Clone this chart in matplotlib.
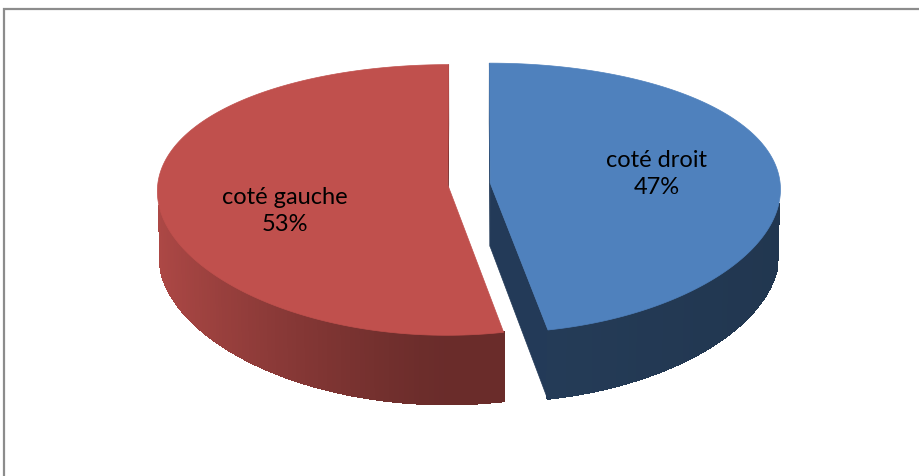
import math
import numpy as np
import matplotlib
matplotlib.use("Agg")
import matplotlib.pyplot as plt
from matplotlib.patches import Polygon

# ------------------------------------------------------------
# Data
# ------------------------------------------------------------
labels = ["coté droit", "coté gauche"]
values = [47, 53]
top_colors = ["#4F81BD", "#C0504D"]

# ------------------------------------------------------------
# 3D view setup (pixel units)
# ------------------------------------------------------------
W, H = 920, 477
cx, cy = 469, 185          # projected pie centre
R = 290                    # radius in px
alpha = math.radians(27.4) # tilt
D = 8.0                    # perspective distance, vertical (in radii)
Dh = 20.0                  # perspective distance, horizontal
thick = 0.25               # thickness (in radii)
explode = 0.0735           # explode distance (in radii)

ca, sa = math.cos(alpha), math.sin(alpha)
cam = np.array([0.0, -D * ca, D * sa])


def proj(x, y, z):
    # x right, y away from viewer, z up
    v = z * ca + y * sa
    w = y * ca - z * sa
    return cx + R * x * Dh / (Dh + w), cy - R * v * D / (D + w)


def shade(hex_color, f):
    c = np.array(matplotlib.colors.to_rgb(hex_color)) * f
    return tuple(np.clip(c, 0, 1))


def visible(point, normal):
    return np.dot(cam - np.array(point), np.array(normal)) > 0


fig = plt.figure(figsize=(W / 100, H / 100), dpi=100)
ax = fig.add_axes([0, 0, 1, 1])
ax.set_xlim(0, W)
ax.set_ylim(H, 0)
ax.axis("off")

# chart area border (cut at right and bottom)
ax.plot([4.5, 4.5, W + 2], [H + 2, 9.5, 9.5], color="#8c8c8c", lw=1.6,
        solid_joinstyle="miter")

total = sum(values)
start = 0.0
slices = []
for lab, val, col in zip(labels, values, top_colors):
    sweep = 360.0 * val / total
    slices.append((lab, val, col, start, start + sweep))
    start += sweep

label_pos = {"coté droit": (657, 174), "coté gauche": (285, 211)}

for lab, val, col, t0, t1 in slices:
    mid = math.radians((t0 + t1) / 2)
    ox, oy = explode * math.sin(mid), explode * math.cos(mid)
    ts = np.radians(np.linspace(t0, t1, 200))
    rim = [(ox + math.sin(t), oy + math.cos(t)) for t in ts]
    is_red = lab == "coté gauche"

    # cut faces
    for ang, sign in ((t0, -1), (t1, 1)):
        a = math.radians(ang)
        n = (math.sin(a + sign * math.pi / 2), math.cos(a + sign * math.pi / 2), 0)
        px, py = ox + math.sin(a), oy + math.cos(a)
        if visible((ox + 0.5 * math.sin(a), oy + 0.5 * math.cos(a), -thick / 2), n):
            pts = [proj(ox, oy, 0), proj(px, py, 0), proj(px, py, -thick), proj(ox, oy, -thick)]
            fc = "#6e2a28" if is_red else "#233a58"
            ax.add_patch(Polygon(pts, closed=True, facecolor=fc, edgecolor=fc, lw=0.5))

    # outer wall
    for i in range(len(ts) - 1):
        tm = (ts[i] + ts[i + 1]) / 2
        n = (math.sin(tm), math.cos(tm), 0)
        p = (ox + math.sin(tm), oy + math.cos(tm), -thick / 2)
        if not visible(p, n):
            continue
        (x0, y0), (x1, y1) = rim[i], rim[i + 1]
        pts = [proj(x0, y0, 0), proj(x1, y1, 0), proj(x1, y1, -thick), proj(x0, y0, -thick)]
        if is_red:
            f = 0.55 + 0.35 * max(0.0, -math.sin(tm)) ** 1.3
        else:
            f = 0.47 - 0.05 * max(0.0, math.sin(tm))
        fc = shade(col, f)
        ax.add_patch(Polygon(pts, closed=True, facecolor=fc, edgecolor=fc, lw=1.0,
                             antialiased=False))

    # top face
    pts = [proj(ox, oy, 0)] + [proj(x, y, 0) for x, y in rim]
    ax.add_patch(Polygon(pts, closed=True, facecolor=col, edgecolor=col, lw=0.5))

    lx, ly = label_pos[lab]
    ax.text(lx, ly, f"{lab}\n{val}%", ha="center", va="center", fontsize=17,
            family=["Lato", "DejaVu Sans"], linespacing=1.35, color="black")

fig.savefig("out.png", dpi=100)
